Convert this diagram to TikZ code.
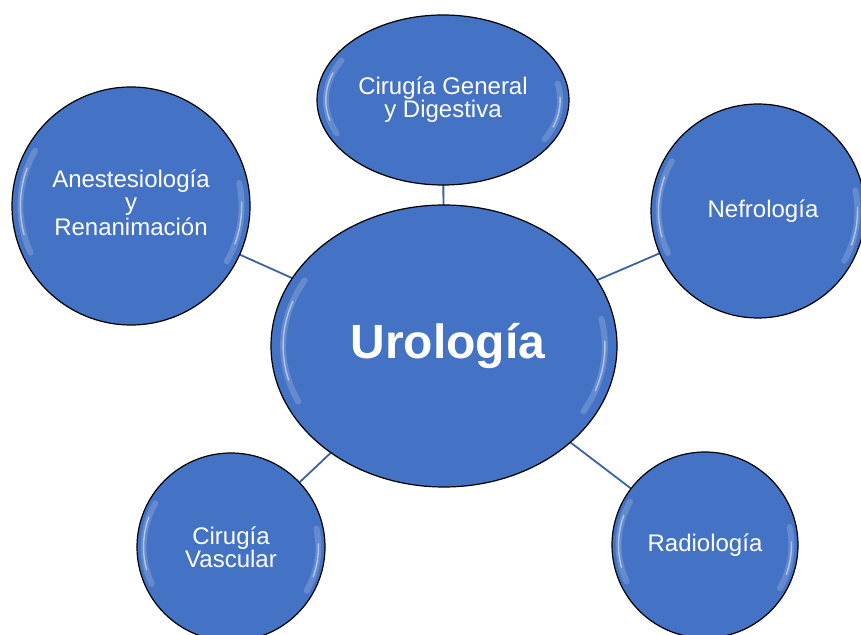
\documentclass[tikz,border=0pt]{standalone}
\usepackage{fontspec}
\setmainfont{Liberation Sans}
\usetikzlibrary{shapes.geometric,calc}
\definecolor{bubble}{HTML}{4472C4}
\definecolor{linkc}{HTML}{3A62A8}
\tikzset{
  glow/.style={path picture={
    \path (path picture bounding box.north east) coordinate (ppne)
          (path picture bounding box.center) coordinate (ppc);
    \foreach \a/\b in {150/205,-30/12}{
      \draw[white, opacity=.18, line width=6pt, line cap=round]
        let \p1=(ppne), \p2=(ppc), \n1={(\x1-\x2)*0.93}, \n2={(\y1-\y2)*0.93} in
        ($(ppc)+(\a:\n1 and \n2)$) arc[start angle=\a, end angle=\b, x radius=\n1, y radius=\n2];
      \draw[white, opacity=.5, line width=1.4pt, line cap=round]
        let \p1=(ppne), \p2=(ppc), \n1={(\x1-\x2)*0.93}, \n2={(\y1-\y2)*0.93} in
        ($(ppc)+(\a+10:\n1 and \n2)$) arc[start angle=\a+10, end angle=\b-10, x radius=\n1, y radius=\n2];
    }
  }},
  bubblebase/.style={fill=bubble, draw=black, line width=1.2pt, inner sep=0pt,
    text=white, align=center, font=\fontsize{24}{23}\selectfont, glow},
  oval/.style={bubblebase, ellipse},
  roundb/.style={bubblebase, circle},
  link/.style={draw=linkc, line width=1.8pt}
}
\begin{document}
\begin{tikzpicture}[x=1pt,y=1pt]
\useasboundingbox (0,0) rectangle (861,634);
\fill[white] (0,0) rectangle (861,634);
\coordinate (cU) at (444,288);
\coordinate (cCG) at (443,534);
\coordinate (cA) at (131,428);
\coordinate (cN) at (758,423);
\coordinate (cV) at (231,87);
\coordinate (cR) at (705,89);
\foreach \t in {cCG,cA,cN,cV,cR}{\draw[link] (cU) -- (\t);}
\node[oval, minimum width=346pt, minimum height=282pt,
      font=\fontsize{48}{50}\selectfont\bfseries] (U) at (cU) {\hspace*{8pt}Urología};
\node[oval, minimum width=252pt, minimum height=170pt] (CG) at (cCG) {Cirugía General\\y Digestiva};
\node[roundb, minimum size=238pt] (A) at (cA) {\raisebox{9pt}{\begin{tabular}{@{}c@{}}Anestesiología\\[0pt]y\\[0pt]Renanimación\end{tabular}}};
\node[roundb, minimum size=214pt] (N) at (cN) {\hspace*{10pt}Nefrología};
\node[roundb, minimum size=188pt] (V) at (cV) {Cirugía\\Vascular};
\node[roundb, minimum size=186pt] (R) at (cR) {Radiología};
\end{tikzpicture}
\end{document}
